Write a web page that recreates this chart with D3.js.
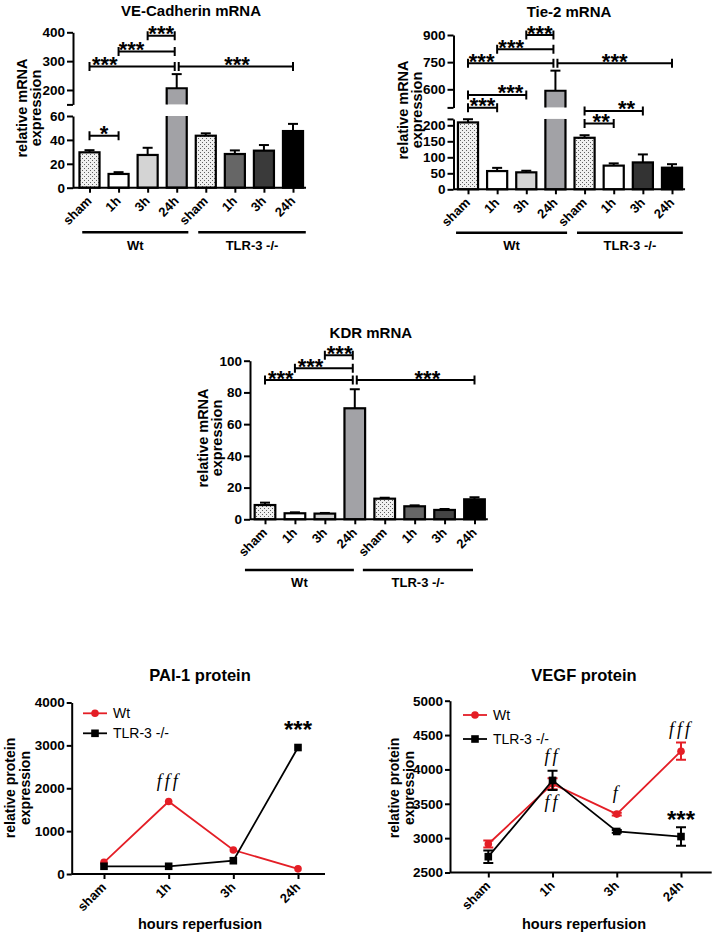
<!DOCTYPE html>
<html><head><meta charset="utf-8">
<script src="https://cdn.jsdelivr.net/npm/d3@7"></script>
<style>
html,body{margin:0;padding:0;background:#fff;}
svg{display:block;}
</style></head><body>
<svg id="chart" width="717" height="938"></svg>
<script>
// ---------------- DATA ----------------
const barCategories = ["sham","1h","3h","24h","sham","1h","3h","24h"];
const groupNames = ["Wt","TLR-3 -/-"];

const veMean  = [29.6, 11.5, 27.4, 206, 43.5, 28.2, 31, 47.4];
const veErr   = [1.8, 1.5, 6, 49, 2, 3, 4.7, 6];
const tieMean = [209, 57, 53, 592, 161, 74, 84, 67.5];
const tieErr  = [10, 10, 5, 111, 8, 7, 25, 11];
const kdrMean = [9, 3.8, 3.6, 70, 13, 8.2, 5.9, 12.6];
const kdrErr  = [1.5, 0.6, 0.4, 12, 0.6, 0.6, 0.6, 1.3];

// significance brackets: from/to bar index, level (data value), stars, label position along bracket
const veBrackets = [
  {from:2, to:3, level:388, seg:1, stars:"***", frac:0.5},
  {from:1, to:3, level:333, seg:1, stars:"***", frac:0.23},
  {from:0, to:3, level:281, seg:1, stars:"***", frac:0.18},
  {from:3, to:7, level:281, seg:1, stars:"***", frac:0.51},
  {from:0, to:1, level:43.5, seg:0, stars:"*", frac:0.5}
];
const tieBrackets = [
  {from:2, to:3, level:900, seg:1, stars:"***", frac:0.5},
  {from:1, to:3, level:821, seg:1, stars:"***", frac:0.25},
  {from:0, to:3, level:744, seg:1, stars:"***", frac:0.16},
  {from:3, to:7, level:744, seg:1, stars:"***", frac:0.5},
  {from:0, to:2, level:569, seg:1, stars:"***", frac:0.73},
  {from:0, to:1, level:498, seg:1, stars:"***", frac:0.5},
  {from:4, to:6, level:245, seg:0, stars:"**", frac:0.72},
  {from:4, to:5, level:206, seg:0, stars:"**", frac:0.57}
];
const kdrBrackets = [
  {from:2, to:3, level:103.5, seg:0, stars:"***", frac:0.53},
  {from:1, to:3, level:95.2, seg:0, stars:"***", frac:0.27},
  {from:0, to:3, level:87.8, seg:0, stars:"***", frac:0.18},
  {from:3, to:7, level:87.8, seg:0, stars:"***", frac:0.6}
];

const proteinX = ["sham","1h","3h","24h"];
const paiWt  = [270, 1690, 560, 120];
const paiTlr = [180, 180, 310, 2950];
const vegfWt     = [2915, 3790, 3350, 4265];
const vegfWtErr  = [50, 80, 20, 125];
const vegfTlr    = [2730, 3840, 3097, 3023];
const vegfTlrErr = [90, 140, 20, 135];

const paiNotes = [
  {text:"fff", cat:"1h", value:2020, kind:"f"},
  {text:"***", cat:"24h", value:3174, kind:"star"}
];
const vegfNotes = [
  {text:"ff", cat:"1h", value:4110, kind:"f"},
  {text:"ff", cat:"1h", value:3443, kind:"f"},
  {text:"f", cat:"3h", value:3574, kind:"f"},
  {text:"fff", cat:"24h", value:4495, kind:"f"},
  {text:"***", cat:"24h", value:3143, kind:"star"}
];

// ---------------- STYLE ----------------
const FONT = '"Liberation Sans", Arial, Helvetica, sans-serif';
const SERIF = '"Liberation Serif", "Times New Roman", serif';
const RED = "#e41e26";
const svg = d3.select("#chart").attr("font-family", FONT);

const defs = svg.append("defs");
const pat = defs.append("pattern").attr("id","stipple").attr("width",4).attr("height",4)
  .attr("patternUnits","userSpaceOnUse");
pat.append("rect").attr("width",4).attr("height",4).attr("fill","#f0f0f0");
pat.append("rect").attr("x",0).attr("y",0).attr("width",1).attr("height",1).attr("fill","#606060");
pat.append("rect").attr("x",2).attr("y",2).attr("width",1).attr("height",1).attr("fill","#606060");
const ST = "url(#stipple)";

function styleAxis(ga, fs) {
  ga.attr("font-family", FONT).attr("font-size", fs || 13.5).attr("font-weight","bold");
  ga.selectAll("path,line").attr("stroke","#000").attr("stroke-width",2);
  ga.selectAll("text").attr("fill","#000");
}

function yLabel(g, lines, bx, gap, cy, fs) {
  const t = g.append("text").attr("transform",`translate(${bx},${cy}) rotate(-90)`)
    .attr("text-anchor","middle").attr("font-size",fs).attr("font-weight","bold");
  t.append("tspan").attr("x",0).attr("y",0).text(lines[0]);
  t.append("tspan").attr("x",0).attr("y",gap).text(lines[1]);
}

// ---------------- BAR PANELS ----------------
function barPanel(c) {
  const g = svg.append("g");
  const n = c.means.length;
  const x = d3.scalePoint().domain(d3.range(n)).range([c.xFirst, c.xLast]);
  const step = x.step();
  const bw = step * 0.69;
  const segs = c.segments.map(s => Object.assign({}, s, {sc: d3.scaleLinear().domain(s.domain).range(s.range)}));
  const low = segs[0], up = segs[1];
  const yOf = v => (up && v > low.domain[1]) ? up.sc(v) : low.sc(v);
  const y0 = low.sc(0);
  const xEnd = c.xLast + bw/2 + 3;

  // bars
  c.means.forEach((v,i) => {
    const cx = x(i), L = cx - bw/2, R = cx + bw/2;
    const fill = c.fills[i];
    if (up && v > low.domain[1]) {
      const yTopLow = low.sc(low.domain[1]);
      const yBotUp = up.sc(up.domain[0]);
      const yv = up.sc(v);
      g.append("rect").attr("x",L).attr("y",yTopLow).attr("width",bw).attr("height",y0-yTopLow).attr("fill",fill);
      g.append("path").attr("d",`M${L},${yTopLow}V${y0}H${R}V${yTopLow}`).attr("fill","none").attr("stroke","#000").attr("stroke-width",2.2);
      g.append("rect").attr("x",L).attr("y",yv).attr("width",bw).attr("height",yBotUp-yv).attr("fill",fill);
      g.append("path").attr("d",`M${L},${yBotUp}V${yv}H${R}V${yBotUp}`).attr("fill","none").attr("stroke","#000").attr("stroke-width",2.2);
    } else {
      const yv = low.sc(v);
      g.append("rect").attr("x",L).attr("y",yv).attr("width",bw).attr("height",y0-yv)
        .attr("fill",fill).attr("stroke","#000").attr("stroke-width",2.2);
    }
    const yv = yOf(v), ye = yOf(v + c.errs[i]);
    g.append("line").attr("x1",cx).attr("x2",cx).attr("y1",yv).attr("y2",ye).attr("stroke","#000").attr("stroke-width",2);
    g.append("line").attr("x1",cx-5).attr("x2",cx+5).attr("y1",ye).attr("y2",ye).attr("stroke","#000").attr("stroke-width",2);
  });

  // y axis segments
  segs.forEach(s => {
    const ax = d3.axisLeft(s.sc).tickValues(s.ticks).tickSize(6).tickSizeOuter(0).tickPadding(2)
      .tickFormat(d => s.labels.indexOf(d) >= 0 ? d : "");
    const ga = g.append("g").attr("transform",`translate(${c.axisX},0)`).call(ax);
    styleAxis(ga);
  });
  // x axis
  g.append("line").attr("x1",c.axisX).attr("x2",xEnd).attr("y1",y0).attr("y2",y0)
    .attr("stroke","#000").attr("stroke-width",2);
  const gx = g.append("g").attr("transform",`translate(0,${y0})`).call(d3.axisBottom(x).tickSize(5).tickFormat(""));
  gx.select(".domain").remove();
  styleAxis(gx);
  g.selectAll(null).data(barCategories).join("text")
    .attr("transform",(d,i)=>`translate(${x(i)+3},${y0+14}) rotate(-45)`)
    .attr("text-anchor","end").attr("font-size",13).attr("font-weight","bold").text(d=>d);

  // group lines
  c.groupLines.forEach((gl,k) => {
    const xa = c.xFirst + gl[0]*step, xb = c.xFirst + gl[1]*step;
    g.append("line").attr("x1",xa).attr("x2",xb).attr("y1",c.groupY).attr("y2",c.groupY)
      .attr("stroke","#000").attr("stroke-width",2.5);
    g.append("text").attr("x",(xa+xb)/2).attr("y",c.groupLabelY).attr("text-anchor","middle")
      .attr("font-size",13).attr("font-weight","bold").text(groupNames[k]);
  });

  // brackets
  c.brackets.forEach(b => {
    const sc = segs[b.seg].sc;
    const yb = sc(b.level);
    const xa = x(b.from) + (b.from === 3 ? 2 : 0);
    const xb = x(b.to) - (b.to === 3 ? 2 : 0);
    g.append("path").attr("d",`M${xa},${yb-4.5}V${yb+4.5}M${xa},${yb}H${xb}M${xb},${yb-4.5}V${yb+4.5}`)
      .attr("fill","none").attr("stroke","#000").attr("stroke-width",2);
    g.append("text").attr("x",xa + (xb-xa)*b.frac).attr("y",yb+5.5).attr("text-anchor","middle")
      .attr("font-size",22).attr("font-weight","bold").text(b.stars);
  });

  // title
  g.append("text").attr("x",c.titleX).attr("y",c.titleY).attr("text-anchor","middle")
    .attr("font-size",15).attr("font-weight","bold").text(c.title);
  yLabel(g, ["relative mRNA","expression"], c.axisX - c.ylOff, 14, c.ylCy, 14.5);
}

barPanel({
  title:"VE-Cadherin mRNA", titleX:191, titleY:16,
  means:veMean, errs:veErr, brackets:veBrackets,
  fills:[ST,"#ffffff","#d4d4d4","#a2a2a6",ST,"#666666","#3a3a3a","#000000"],
  xFirst:89.5, xLast:293, axisX:73,
  segments:[
    {domain:[0,60], range:[187.7,116], ticks:[0,20,40,60], labels:[0,20,40,60]},
    {domain:[150,400], range:[104.4,32.3], ticks:[150,200,300,400], labels:[200,300,400]}
  ],
  groupLines:[[-0.25,3.4],[3.74,7.44]], groupY:232.3, groupLabelY:250,
  ylOff:46, ylCy:108
});

barPanel({
  title:"Tie-2 mRNA", titleX:569, titleY:17,
  means:tieMean, errs:tieErr, brackets:tieBrackets,
  fills:[ST,"#ffffff","#d4d4d4","#a2a2a6",ST,"#ffffff","#333333","#000000"],
  xFirst:468, xLast:672, axisX:453.5,
  segments:[
    {domain:[0,220], range:[189.3,118.9], ticks:[0,50,100,150,200,220], labels:[0,50,100,150,200]},
    {domain:[500,900], range:[107.4,35], ticks:[500,600,750,900], labels:[600,750,900]}
  ],
  groupLines:[[-0.41,3.4],[3.74,7.37]], groupY:232.7, groupLabelY:250,
  ylOff:46, ylCy:110
});

barPanel({
  title:"KDR mRNA", titleX:370.8, titleY:337.5,
  means:kdrMean, errs:kdrErr, brackets:kdrBrackets,
  fills:[ST,"#ffffff","#d0d0d0","#a2a2a6",ST,"#666666","#444444","#000000"],
  xFirst:265, xLast:474.5, axisX:250,
  segments:[
    {domain:[0,100], range:[519.3,360.7], ticks:[0,20,40,60,80,100], labels:[0,20,40,60,80,100]}
  ],
  groupLines:[[-0.67,2.97],[3.27,6.95]], groupY:570, groupLabelY:587,
  ylOff:42, ylCy:438
});

// ---------------- LINE PANELS ----------------
function linePanel(c) {
  const g = svg.append("g");
  const x = d3.scalePoint().domain(proteinX).range(c.xr);
  const y = d3.scaleLinear().domain(c.yDomain).range(c.yr);
  const y0 = y(c.yDomain[0]);

  const ga = g.append("g").attr("transform",`translate(${c.axisX},0)`)
    .call(d3.axisLeft(y).tickValues(c.yTicks).tickSize(5).tickSizeOuter(0).tickPadding(2).tickFormat(d3.format("d")));
  styleAxis(ga, 13.5);
  g.append("line").attr("x1",c.axisX).attr("x2",c.xEnd).attr("y1",y0).attr("y2",y0)
    .attr("stroke","#000").attr("stroke-width",2);
  const gx = g.append("g").attr("transform",`translate(0,${y0})`).call(d3.axisBottom(x).tickSize(5).tickFormat(""));
  gx.select(".domain").remove();
  styleAxis(gx);
  g.selectAll(null).data(proteinX).join("text")
    .attr("transform",d=>`translate(${x(d)+3},${y0+14}) rotate(-45)`)
    .attr("text-anchor","end").attr("font-size",13).attr("font-weight","bold").text(d=>d);

  const line = d3.line().x((d,i)=>x(proteinX[i])).y(d=>y(d));
  c.series.forEach(s => {
    g.append("path").datum(s.values).attr("d",line).attr("fill","none").attr("stroke",s.color).attr("stroke-width",1.8);
    if (s.errs) {
      s.values.forEach((v,i) => {
        const cx = x(proteinX[i]), ya = y(v - s.errs[i]), yb = y(v + s.errs[i]);
        g.append("path").attr("d",`M${cx},${ya}V${yb}M${cx-5},${ya}H${cx+5}M${cx-5},${yb}H${cx+5}`)
          .attr("fill","none").attr("stroke",s.color).attr("stroke-width",2);
      });
    }
    s.values.forEach((v,i) => marker(g, s.shape, x(proteinX[i]), y(v), s.color));
  });

  // legend
  c.series.forEach((s,k) => {
    const ly = c.legendY[k];
    g.append("line").attr("x1",c.legendX[0]).attr("x2",c.legendX[1]).attr("y1",ly).attr("y2",ly)
      .attr("stroke",s.color).attr("stroke-width",1.8);
    marker(g, s.shape, (c.legendX[0]+c.legendX[1])/2, ly, s.color);
    g.append("text").attr("x",c.legendX[2]).attr("y",ly+5).attr("font-size",14).text(s.name);
  });

  // annotations
  c.notes.forEach(nt => {
    const t = g.append("text").attr("x",x(nt.cat)).attr("y",y(nt.value)).attr("text-anchor","middle").text(nt.text);
    if (nt.kind === "f") t.attr("font-family",SERIF).attr("font-style","italic").attr("font-size",18).attr("letter-spacing",3);
    else t.attr("font-size",24).attr("font-weight","bold");
  });

  g.append("text").attr("x",c.titleX).attr("y",681).attr("text-anchor","middle")
    .attr("font-size",16.5).attr("font-weight","bold").text(c.title);
  g.append("text").attr("x",c.titleX).attr("y",929).attr("text-anchor","middle")
    .attr("font-size",14.5).attr("font-weight","bold").text("hours reperfusion");
  yLabel(g, ["relative protein","expression"], c.axisX - c.ylOff, 15, 788, 14);
}

function marker(g, shape, cx, cy, color) {
  if (shape === "circle") g.append("circle").attr("cx",cx).attr("cy",cy).attr("r",3.8).attr("fill",color);
  else g.append("rect").attr("x",cx-3.8).attr("y",cy-3.8).attr("width",7.6).attr("height",7.6).attr("fill",color);
}

linePanel({
  title:"PAI-1 protein", titleX:200,
  xr:[104,298], yDomain:[0,4000], yr:[874,702.5], yTicks:[0,1000,2000,3000,4000],
  axisX:71.7, xEnd:325,
  series:[
    {name:groupNames[0], values:paiWt, color:RED, shape:"circle"},
    {name:groupNames[1], values:paiTlr, color:"#000", shape:"square"}
  ],
  legendY:[713.3,733.3], legendX:[83,107,113],
  notes:paiNotes, ylOff:57
});

linePanel({
  title:"VEGF protein", titleX:584,
  xr:[488.3,681], yDomain:[2500,5000], yr:[872.5,700.7], yTicks:[2500,3000,3500,4000,4500,5000],
  axisX:450, xEnd:711.7,
  series:[
    {name:groupNames[0], values:vegfWt, errs:vegfWtErr, color:RED, shape:"circle"},
    {name:groupNames[1], values:vegfTlr, errs:vegfTlrErr, color:"#000", shape:"square"}
  ],
  legendY:[715,739], legendX:[463,487,493],
  notes:vegfNotes, ylOff:51
});
</script>
</body></html>
